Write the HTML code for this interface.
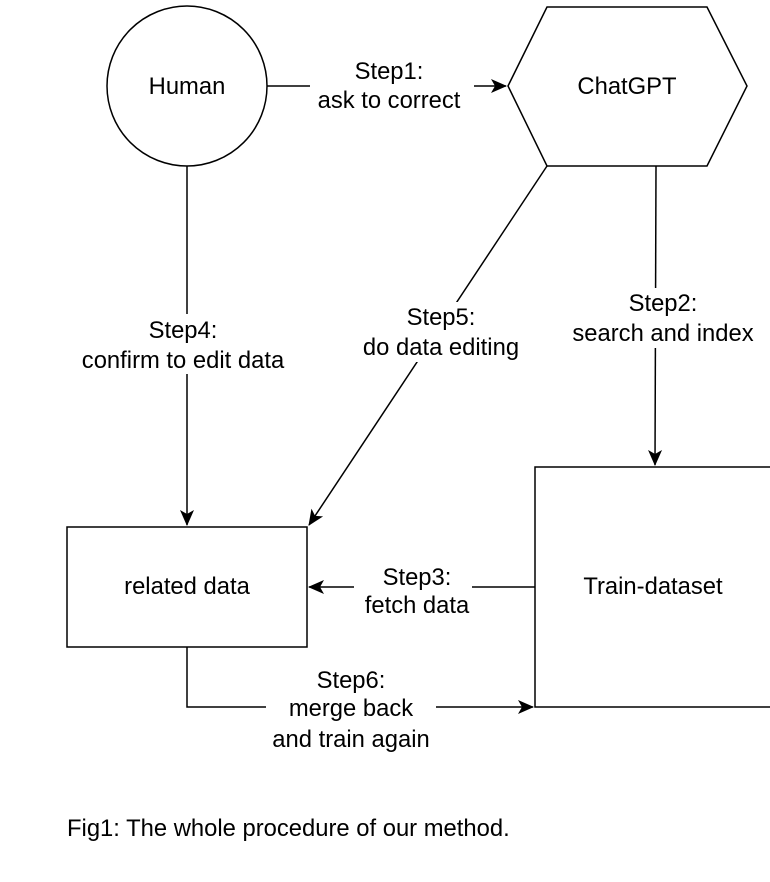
<!DOCTYPE html>
<html><head><style>body{margin:0;background:#fff}svg{display:block}</style></head><body>
<svg width="770" height="882" xmlns="http://www.w3.org/2000/svg" font-family="Liberation Sans, Arial, sans-serif" font-size="23.8" fill="none">
<defs>
<marker id="b" viewBox="0 0 16 16" refX="15" refY="8" markerWidth="16" markerHeight="16" orient="auto" markerUnits="userSpaceOnUse"><path d="M0,1 L16,8 L0,15 L4,8 Z" fill="#000"/></marker></defs>
<g stroke="#000" stroke-width="1.5">
<circle cx="187" cy="86" r="80" fill="#fff"/>
<polygon points="508,86 547,7 707,7 747,86 707,166 547,166" fill="#fff"/>
<rect x="535" y="467" width="250" height="240" fill="#fff"/>
<rect x="67" y="527" width="240" height="120" fill="#fff"/>
<line x1="267" y1="86" x2="506" y2="86" marker-end="url(#b)"/>
<line x1="187" y1="166" x2="187" y2="525" marker-end="url(#b)"/>
<line x1="547" y1="166" x2="309" y2="525" marker-end="url(#b)"/>
<line x1="656" y1="166" x2="655" y2="465" marker-end="url(#b)"/>
<line x1="535" y1="587" x2="309" y2="587" marker-end="url(#b)"/>
<polyline points="187,647 187,707 533,707" marker-end="url(#b)"/>
</g>
<g fill="#fff">
<rect x="310" y="56" width="164" height="58"/>
<rect x="74" y="314" width="218" height="60"/>
<rect x="356" y="302" width="170" height="60"/>
<rect x="566" y="288" width="194" height="60"/>
<rect x="354" y="562" width="118" height="56"/>
<rect x="266" y="664" width="170" height="90"/>
</g>
<g fill="#000" text-anchor="middle">
<text x="187" y="94">Human</text>
<text x="627" y="94">ChatGPT</text>
<text x="653" y="594">Train-dataset</text>
<text x="187" y="594">related data</text>
<text x="389" y="79">Step1:</text><text x="389" y="108">ask to correct</text>
<text x="183" y="338">Step4:</text><text x="183" y="368">confirm to edit data</text>
<text x="441" y="325">Step5:</text><text x="441" y="355">do data editing</text>
<text x="663" y="311">Step2:</text><text x="663" y="341">search and index</text>
<text x="417" y="585">Step3:</text><text x="417" y="613">fetch data</text>
<text x="351" y="688">Step6:</text><text x="351" y="716">merge back</text><text x="351" y="747">and train again</text>
</g>
<text x="67" y="836" fill="#000">Fig1: The whole procedure of our method.</text>
</svg>
</body></html>
